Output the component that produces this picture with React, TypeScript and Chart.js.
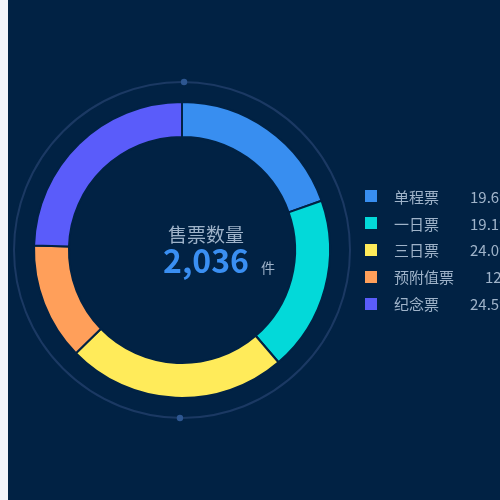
import React, { useEffect, useRef } from "react";
import { Chart, registerables } from "chart.js";

Chart.register(...registerables);

const categories = ["单程票", "一日票", "三日票", "预附值票", "纪念票"];
const values = [399, 389, 489, 260, 499];
const colors = ["#388ef0", "#03d9d9", "#ffeb5a", "#ff9f5a", "#5a5cfa"];
const totalLabel = "2,036";
const centerTitle = "售票数量";
const unit = "件";

const BG = "#012244";
const TEXT = "#9fb3c9";

const ringPlugin = {
  id: "outerRing",
  beforeDatasetsDraw(chart: any) {
    const meta = chart.getDatasetMeta(0);
    const arc = meta.data[0];
    if (!arc) return;
    const { x, y, outerRadius } = arc.getProps(["x", "y", "outerRadius"], true);
    const r = outerRadius + 20;
    const ctx = chart.ctx;
    ctx.save();
    ctx.strokeStyle = "#1b3963";
    ctx.lineWidth = 2;
    ctx.beginPath();
    ctx.arc(x, y, r, 0, Math.PI * 2);
    ctx.stroke();
    const a = (0.7 * Math.PI) / 180;
    ctx.fillStyle = "#2d5690";
    for (const k of [0, Math.PI]) {
      const ang = -Math.PI / 2 + a + k;
      ctx.beginPath();
      ctx.arc(x + r * Math.cos(ang), y + r * Math.sin(ang), 3.2, 0, Math.PI * 2);
      ctx.fill();
    }
    ctx.restore();
  },
};

export default function App() {
  const ref = useRef<HTMLCanvasElement | null>(null);

  useEffect(() => {
    if (!ref.current) return;
    const chart = new Chart(ref.current, {
      type: "doughnut",
      data: {
        labels: categories,
        datasets: [
          {
            data: values,
            backgroundColor: colors,
            borderColor: BG,
            borderWidth: 2,
            hoverOffset: 0,
          },
        ],
      },
      options: {
        animation: false,
        responsive: false,
        maintainAspectRatio: false,
        radius: 148,
        cutout: "76.4%",
        layout: { padding: { left: 0, right: 144, top: 0, bottom: 0 } },
        plugins: { legend: { display: false }, tooltip: { enabled: false } },
      },
      plugins: [ringPlugin],
    });
    return () => chart.destroy();
  }, []);

  const total = values.reduce((a, b) => a + b, 0);

  return (
    <div
      style={{
        position: "fixed",
        left: 0,
        top: 0,
        width: 500,
        height: 500,
        background: "#f2f4f9",
        overflow: "hidden",
      }}
    >
      <div
        style={{
          position: "absolute",
          left: 8,
          top: 0,
          width: 492,
          height: 500,
          background: BG,
          overflow: "hidden",
          fontFamily: "'Noto Sans CJK SC', 'Noto Sans', sans-serif",
        }}
      >
        <canvas ref={ref} width={492} height={500} style={{ position: "absolute", left: 0, top: 0 }} />
        <div
          style={{
            position: "absolute",
            left: 160,
            top: 222,
            fontSize: 19,
            lineHeight: "24px",
            color: TEXT,
            whiteSpace: "nowrap",
          }}
        >
          {centerTitle}
        </div>
        <div
          style={{
            position: "absolute",
            left: 155,
            top: 241,
            whiteSpace: "nowrap",
            lineHeight: "36px",
          }}
        >
          <span style={{ fontSize: 32, fontWeight: 700, color: "#3a8ff2" }}>{totalLabel}</span>
          <span style={{ fontSize: 14, color: TEXT, marginLeft: 12 }}>{unit}</span>
        </div>
        <div style={{ position: "absolute", left: 357, top: 183 }}>
          {categories.map((c, i) => (
            <div
              key={c}
              style={{
                display: "flex",
                alignItems: "center",
                height: 26.8,
                whiteSpace: "nowrap",
                fontSize: 15,
                color: TEXT,
              }}
            >
              <span
                style={{
                  display: "inline-block",
                  width: 12,
                  height: 12,
                  background: colors[i],
                  marginRight: 17,
                }}
              />
              <span>{c}</span>
              <span style={{ marginLeft: 31 }}>
                {((values[i] / total) * 100).toFixed(1)}%
              </span>
            </div>
          ))}
        </div>
      </div>
    </div>
  );
}
